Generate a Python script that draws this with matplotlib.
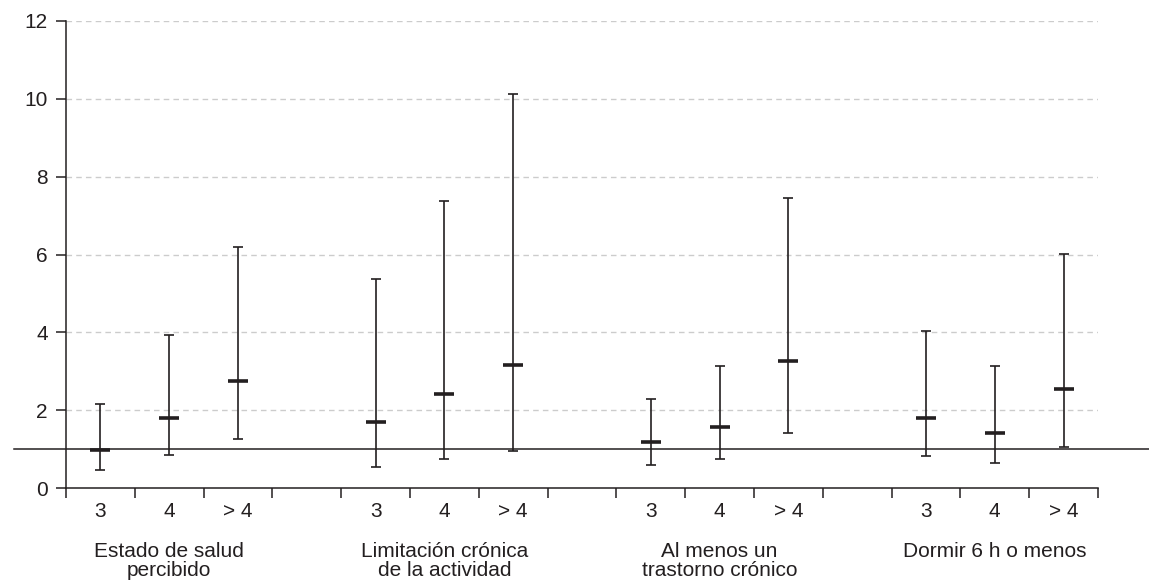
import numpy as np
import matplotlib
matplotlib.use("Agg")
import matplotlib.pyplot as plt
from matplotlib.transforms import blended_transform_factory

plt.rcParams['font.family'] = ['Liberation Sans', 'DejaVu Sans']
plt.rcParams['font.size'] = 15

# Data (odds ratio and 95% CI)
groups = ['Estado de salud\npercibido', 'Limitación crónica\nde la actividad',
          'Al menos un\ntrastorno crónico', 'Dormir 6 h o menos']
levels = ['3', '4', '> 4']
estimate = [0.98, 1.79, 2.75,
            1.70, 2.42, 3.16,
            1.17, 1.57, 3.26,
            1.81, 1.41, 2.55]
lower = [0.46, 0.86, 1.26,
         0.53, 0.75, 0.96,
         0.58, 0.75, 1.42,
         0.81, 0.64, 1.05]
upper = [2.15, 3.92, 6.18,
         5.37, 7.37, 10.12,
         2.28, 3.13, 7.45,
         4.03, 3.13, 6.01]

ink = '#231f20'

# positions: 3 slots per group + one empty slot between groups
pos = []
for g in range(len(groups)):
    for k in range(len(levels)):
        pos.append(g * 4 + k + 0.5)
pos = np.array(pos)
est = np.array(estimate)
lo = np.array(lower)
hi = np.array(upper)

fig = plt.figure(figsize=(11.49, 5.82), dpi=100)
ax = fig.add_axes([66 / 1149, 94 / 582, (1098 - 66) / 1149, (488 - 21) / 582])

ax.set_xlim(0, 15)
ax.set_ylim(0, 12)

# grid
for y in range(2, 13, 2):
    ax.axhline(y, color='#cccccc', lw=1, ls=(0, (4, 3)), zorder=0)

# reference line at 1 across the whole figure
tr = blended_transform_factory(fig.transFigure, ax.transData)
ax.plot([14 / 1149, 1.0], [1, 1], color=ink, lw=1.1, transform=tr, clip_on=False, zorder=1)

# confidence intervals
ax.errorbar(pos, est, yerr=[est - lo, hi - est], fmt='none', ecolor=ink,
            elinewidth=1.2, capsize=3.6, capthick=1.2, zorder=2)
ax.plot(pos, est, ls='none', marker='_', markersize=15, mew=2.6, color=ink, zorder=3)

# axes styling
for s in ['top', 'right']:
    ax.spines[s].set_visible(False)
ax.spines['left'].set_color(ink)
ax.spines['bottom'].set_color(ink)
ax.spines['left'].set_linewidth(1.1)
ax.spines['bottom'].set_linewidth(1.1)

ax.set_yticks(range(0, 13, 2))
ax.tick_params(axis='y', length=7, width=1.1, color=ink, pad=6, labelcolor=ink)

ax.set_xticks(np.arange(0, 16))
ax.set_xticklabels([])
ax.set_xticks(pos, levels * len(groups), minor=True)
ax.tick_params(axis='x', which='major', length=7, width=1.1, color=ink)
ax.tick_params(axis='x', which='minor', length=0, pad=10, labelcolor=ink)

for g, name in enumerate(groups):
    ax.annotate(name, xy=(g * 4 + 1.5, 0), xycoords=('data', 'axes fraction'),
                xytext=(0, -39), textcoords='offset points', ha='center', va='top',
                color=ink, linespacing=1.0)

fig.savefig('out.png', dpi=100)
